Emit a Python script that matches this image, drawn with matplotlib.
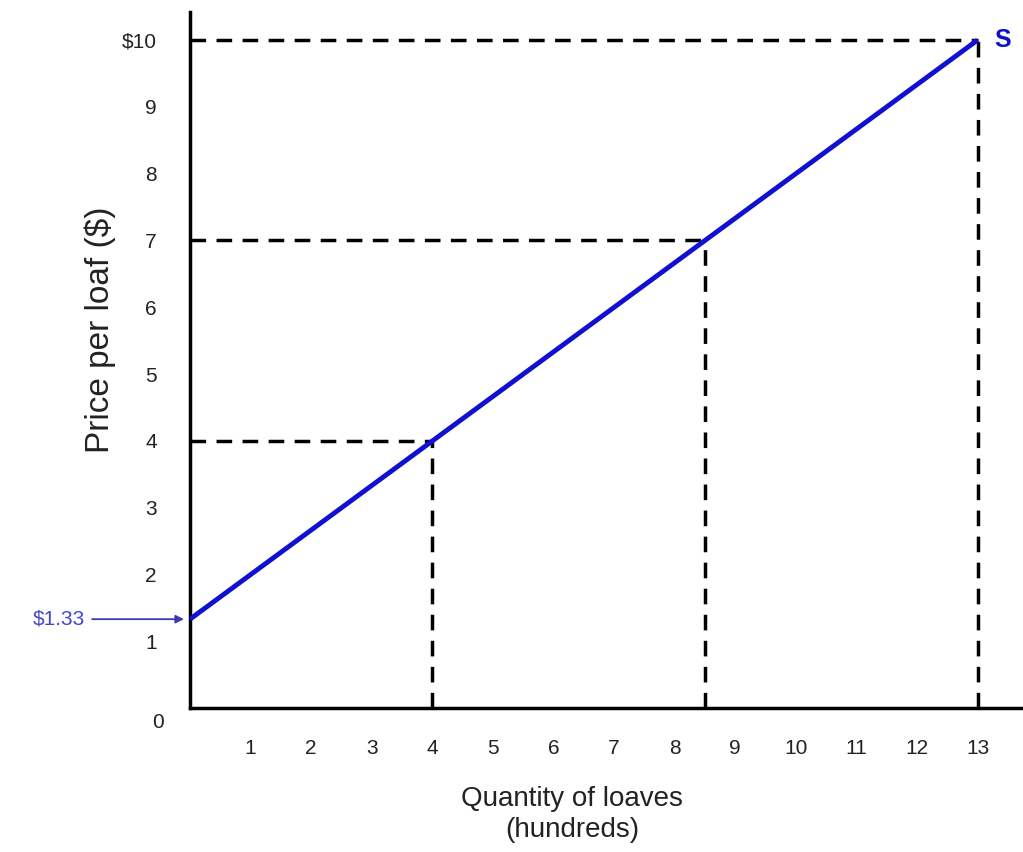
import matplotlib
matplotlib.use("Agg")
import matplotlib.pyplot as plt

plt.rcParams['font.family'] = ['Liberation Sans', 'DejaVu Sans']

# supply curve endpoints (quantity in hundreds, price in $)
supply_q = [0, 13]
supply_p = [1.33, 10]

# marked points on the curve
point_q = [4, 8.5, 13]
point_p = [4, 7, 10]

x_ticks = list(range(1, 14))
y_ticks = list(range(1, 11))
y_labels = [str(v) for v in y_ticks[:-1]] + ['$10']

blue = '#1010d0'
txt = '#222222'

fig = plt.figure(figsize=(10.23, 8.52), dpi=100)
ax = fig.add_axes([190 / 1023, 144 / 852, 833 / 1023, 696 / 852])
ax.set_xlim(0, 13.75)
ax.set_ylim(0, 10.42)

for s in ['top', 'right']:
    ax.spines[s].set_visible(False)
for s in ['left', 'bottom']:
    ax.spines[s].set_linewidth(2.5)
    ax.spines[s].set_color('black')

# dashed guide lines
for q, p in zip(point_q, point_p):
    ax.plot([0, q], [p, p], color='black', lw=2.5, ls=(0, (4.5, 3)), zorder=2)
    ax.plot([q, q], [0, p], color='black', lw=2.5, ls=(0, (4.5, 3)), zorder=2)

ax.plot(supply_q, supply_p, color=blue, lw=3.5, solid_capstyle='butt', zorder=3)

ax.text(13.42, 10.0, 'S', color=blue, fontsize=18, fontweight='bold',
        ha='center', va='center')

ax.annotate('$1.33', xy=(-0.1, supply_p[0]), xytext=(-1.73, supply_p[0]),
            color='#4545cc', fontsize=15, ha='right', va='center',
            annotation_clip=False,
            arrowprops=dict(arrowstyle='-|>', color='#3a3ab8', lw=1.3,
                            mutation_scale=12, shrinkA=3, shrinkB=0))

ax.set_xticks(x_ticks)
ax.set_xticklabels([str(v) for v in x_ticks], fontsize=15, color=txt)
ax.set_yticks(y_ticks)
ax.set_yticklabels(y_labels, fontsize=15, color=txt)
ax.tick_params(axis='x', length=0, pad=22)
ax.tick_params(axis='y', length=0, pad=24)

ax.text(-0.53, -0.22, '0', fontsize=15, color=txt, ha='center', va='center')

ax.set_xlabel('Quantity of loaves\n(hundreds)', fontsize=20, color=txt,
              linespacing=1.25)
ax.xaxis.set_label_coords(0.459, -0.112)
ax.xaxis.label.set_va('top')
ax.set_ylabel('Price per loaf ($)', fontsize=24, color=txt)
ax.yaxis.set_label_coords(-0.108, 0.543)
ax.yaxis.label.set_va('center')

fig.savefig('out.png', dpi=100)
